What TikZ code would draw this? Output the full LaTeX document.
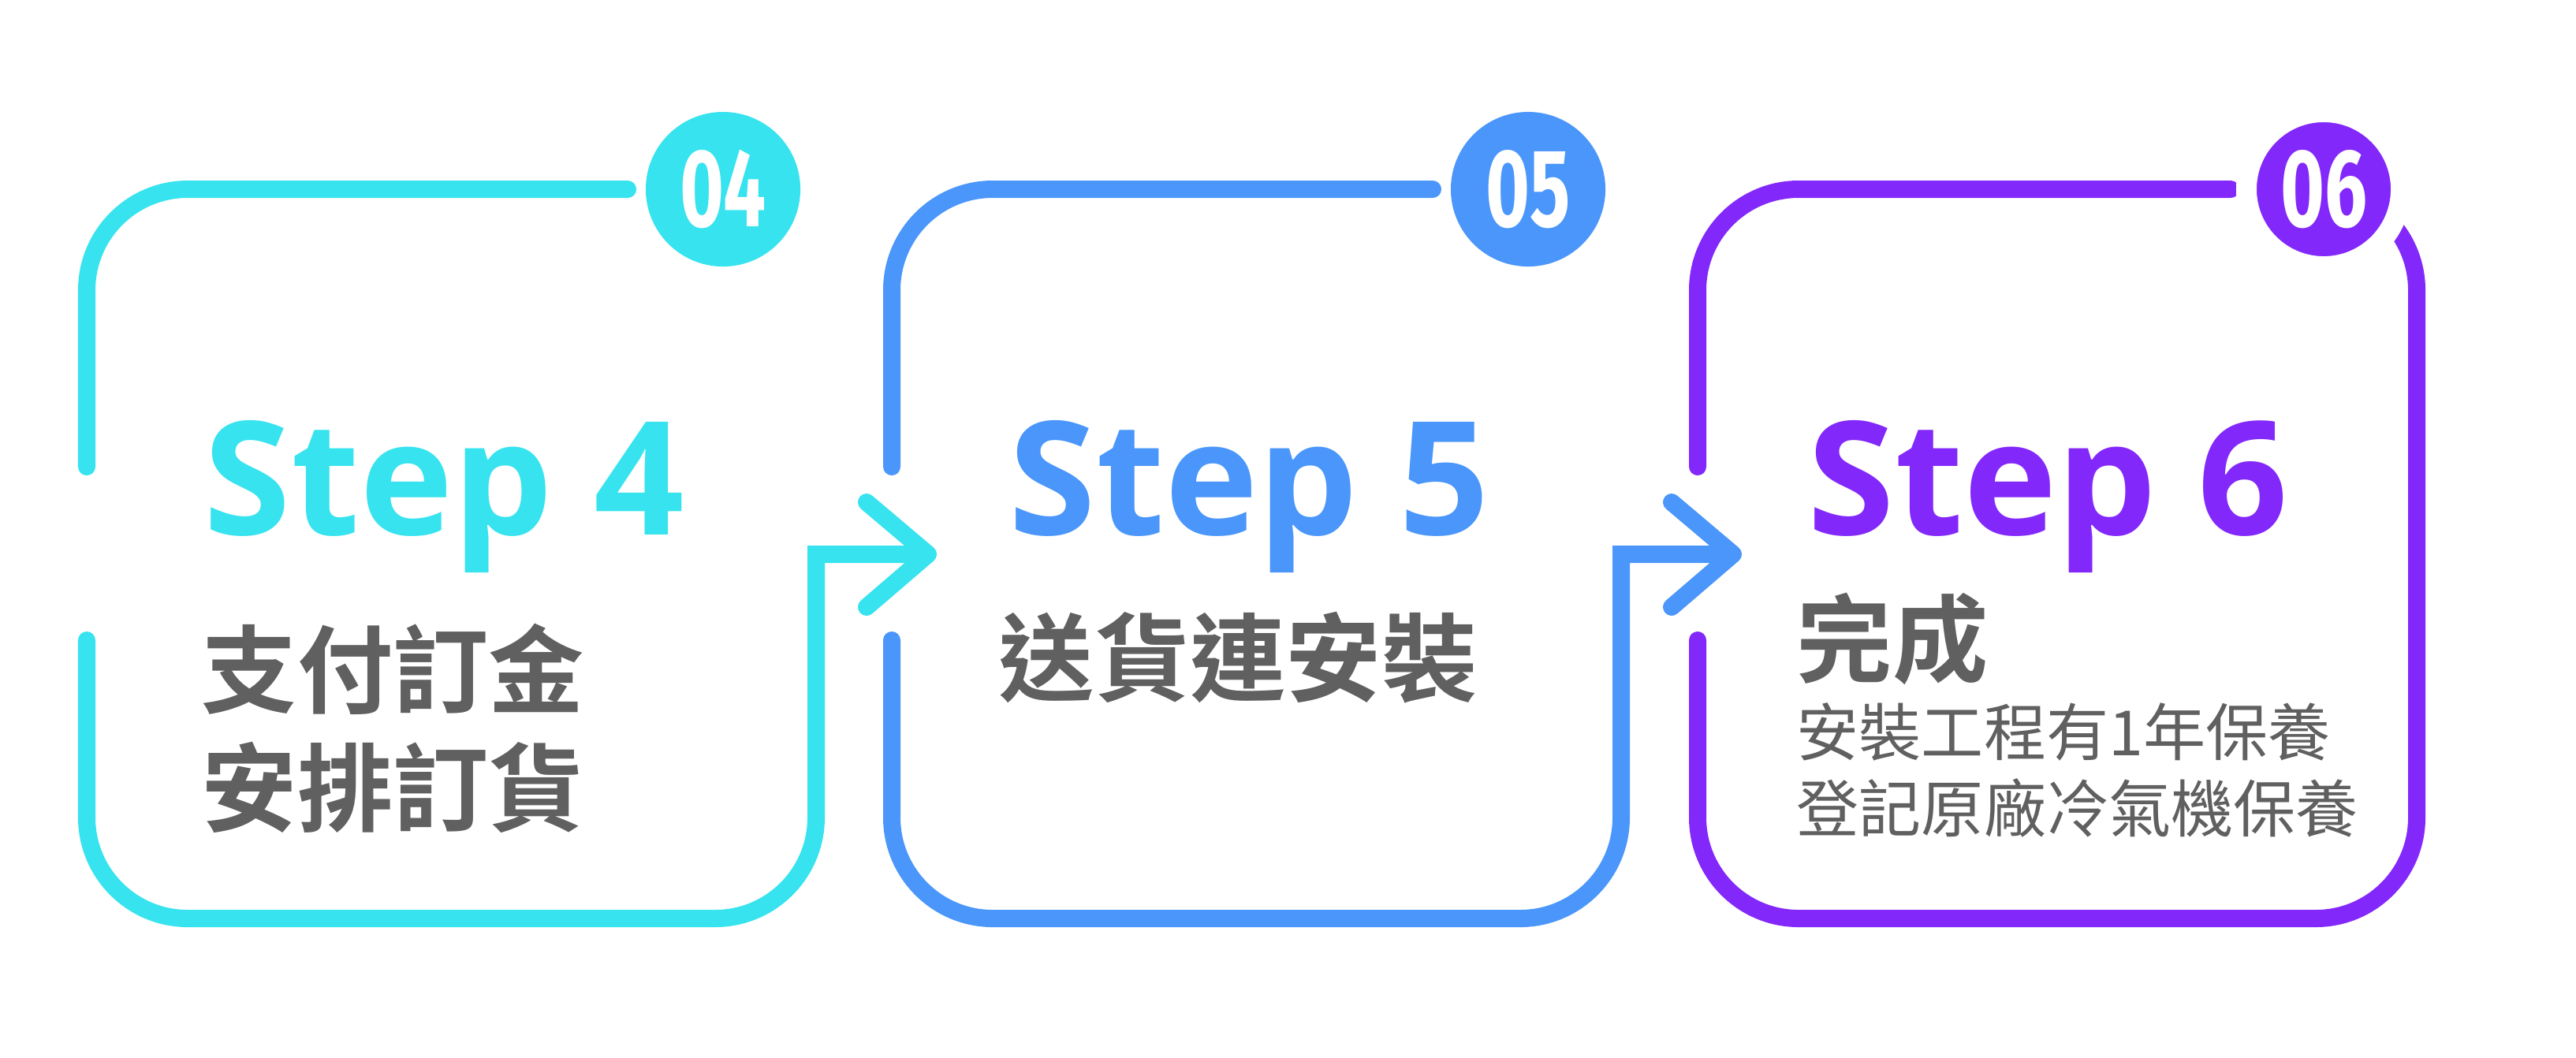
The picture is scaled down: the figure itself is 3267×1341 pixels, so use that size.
\documentclass[tikz,border=0pt]{standalone}
\usepackage{fontspec}
\setmainfont{Open Sans}
\newfontfamily\cjk{Noto Sans CJK TC}
\newfontfamily\cjkb{Noto Sans CJK TC Bold}
\newfontfamily\numf{Fira Sans}
\definecolor{cA}{HTML}{36E3EF}
\definecolor{cB}{HTML}{4A96FA}
\definecolor{cC}{HTML}{8328FA}
\definecolor{txt}{HTML}{606060}
\begin{document}
\begin{tikzpicture}[x=0.01cm,y=-0.01cm,
  frame/.style={line width=0.22cm,line cap=round},
  chev/.style={line width=0.22cm,line cap=round,line join=round},
  badge/.style={circle,minimum size=1.96cm,inner sep=0},
  num/.style={text=white,font=\numf\bfseries\fontsize{40}{42}\selectfont,xscale=0.68,inner sep=0},
  steptxt/.style={anchor=base west,inner sep=0,font=\bfseries\fontsize{57}{60}\selectfont},
  bigcjk/.style={anchor=base west,inner sep=0,text=txt,font=\cjkb\fontsize{34.5}{36}\selectfont},
  smallcjk/.style={anchor=base west,inner sep=0,text=txt,font=\cjk\fontsize{22.5}{24}\selectfont}]
\useasboundingbox (0,0) rectangle (3267,1341);
% ---- box 1 and 2
\foreach \dx/\col in {0/cA,1021/cB}{
  \draw[frame,\col,rounded corners=1.28cm] (110+\dx,592) -- (110+\dx,240) -- (796+\dx,240);
  \draw[frame,\col,rounded corners=1.28cm] (110+\dx,812) -- (110+\dx,1165) -- (1035+\dx,1165)
     [sharp corners] -- (1035+\dx,703) -- (1170+\dx,703);
  \draw[chev,\col] (1099+\dx,637) -- (1177+\dx,703) -- (1099+\dx,770);
}
% ---- box 3
\draw[frame,cC,rounded corners=1.28cm] (2153,592) -- (2153,240) -- (2829,240);
\draw[frame,cC,rounded corners=1.28cm] (2153,812) -- (2153,1165) -- (3065,1165) -- (3065,240) -- (2937,240);
% ---- badges
\node[badge,fill=cA] (b4) at (917,240) {};
\node[num] at (b4) {04};
\node[badge,fill=cB] (b5) at (1938,240) {};
\node[num] at (b5) {05};
\node[badge,fill=cC,draw=white,line width=0.26cm] (b6) at (2947,240) {};
\node[num] at (b6) {06};
% ---- texts
\node[steptxt,text=cA] (s4) at (258,678) {Step 4};
\node[bigcjk] (t4a) at (255,895) {支付訂金};
\node[bigcjk] (t4b) at (255,1045) {安排訂貨};
\node[steptxt,text=cB] (s5) at (1279,678) {Step 5};
\node[bigcjk] (t5) at (1266,880) {送貨連安裝};
\node[steptxt,text=cC] (s6) at (2292,678) {Step 6};
\node[bigcjk] (t6) at (2278,856) {完成};
\node[smallcjk] (t6a) at (2278,958) {安裝工程有1年保養};
\node[smallcjk] (t6b) at (2278,1055) {登記原廠冷氣機保養};
\end{tikzpicture}
\end{document}
